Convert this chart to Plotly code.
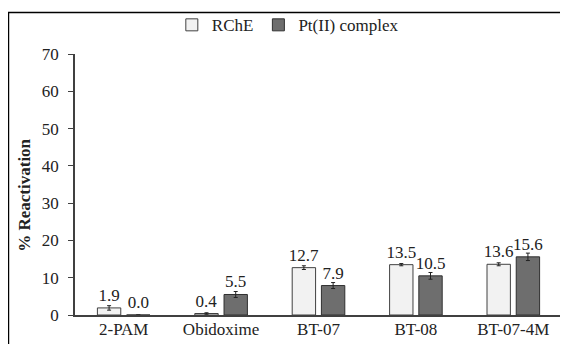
import plotly.graph_objects as go

categories = ["2-PAM", "Obidoxime", "BT-07", "BT-08", "BT-07-4M"]
rche_values = [1.9, 0.4, 12.7, 13.5, 13.6]
rche_errors = [0.6, 0.2, 0.5, 0.3, 0.4]
pt_values = [0.0, 5.5, 7.9, 10.5, 15.6]
pt_errors = [0.0, 0.8, 0.8, 0.9, 1.0]
y_ticks = [0, 10, 20, 30, 40, 50, 60, 70]

FONT = "Liberation Serif, Times New Roman, serif"

fig = go.Figure()
fig.add_trace(go.Bar(
    name="RChE", x=categories, y=rche_values,
    marker=dict(color="#f2f2f2", line=dict(color="#404040", width=1)),
    error_y=dict(type="data", array=rche_errors, color="#222222", thickness=1, width=2),
    text=[f"{v:.1f}" for v in rche_values], textposition="outside", constraintext="none",
    textfont=dict(family=FONT, size=17, color="#222222"), cliponaxis=False,
))
fig.add_trace(go.Bar(
    name="Pt(II) complex", x=categories, y=pt_values,
    marker=dict(color="#6e6e6e", line=dict(color="#303030", width=1)),
    error_y=dict(type="data", array=pt_errors, color="#222222", thickness=1, width=2),
    text=[f"{v:.1f}" for v in pt_values], textposition="outside", constraintext="none",
    textfont=dict(family=FONT, size=17, color="#222222"), cliponaxis=False,
))

fig.update_layout(
    width=560, height=336,
    margin=dict(l=67, r=6, t=46, b=29, autoexpand=False),
    paper_bgcolor="white", plot_bgcolor="white",
    font=dict(family=FONT, size=17, color="#222222"),
    barmode="group", bargap=0.40, bargroupgap=0.2,
    showlegend=True,
    legend=dict(orientation="h", x=0.437, xanchor="center", y=1.11, yanchor="middle",
                font=dict(family=FONT, size=17, color="#222222"),
                itemwidth=30, traceorder="normal", bgcolor="rgba(0,0,0,0)"),
    xaxis=dict(showline=True, linecolor="#404040", linewidth=1.5, ticks="",
               showgrid=False, tickfont=dict(size=17), automargin=False,
               ticklabelstandoff=-2),
    yaxis=dict(range=[0, 70], tickvals=y_ticks, showline=True, linecolor="#404040",
               linewidth=1.5, ticks="outside", ticklen=5, tickcolor="#404040",
               showgrid=False, zeroline=False, tickfont=dict(size=17), automargin=False,
               ticklabelstandoff=6),
    annotations=[dict(text="<b>% Reactivation</b>", x=-0.103, y=0.46, xref="paper", yref="paper",
                      xanchor="center", yanchor="middle",
                      textangle=-90, showarrow=False, font=dict(family=FONT, size=17, color="#222222"))],
    shapes=[dict(type="rect", xref="paper", yref="paper", x0=-0.1366, x1=1.2, y0=-0.3, y1=1.159,
                 line=dict(color="black", width=1.5), layer="below")],
)

fig.write_html("out.html")
